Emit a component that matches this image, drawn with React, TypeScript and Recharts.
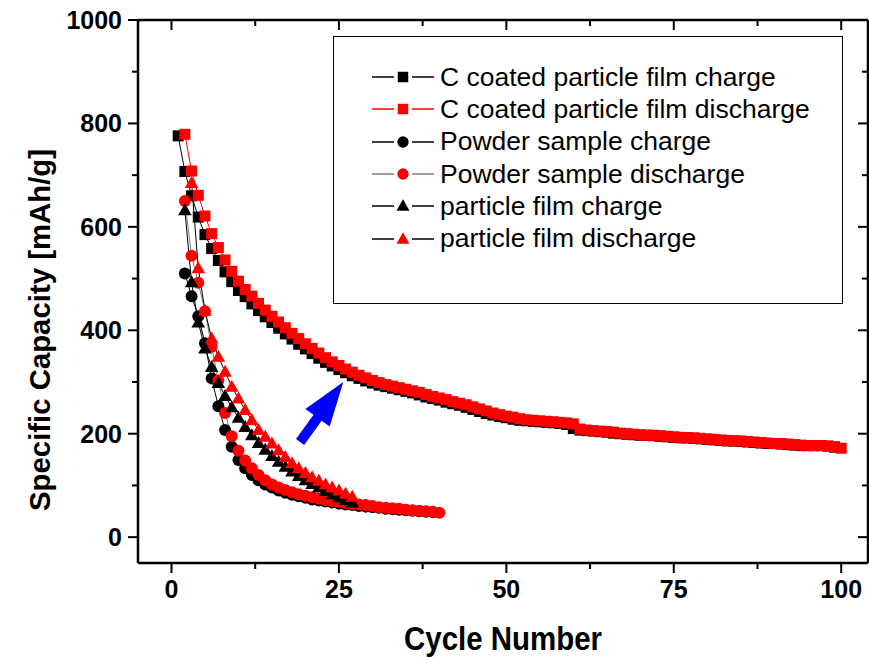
import React from 'react';
import { LineChart, Line, XAxis, YAxis, Legend, ReferenceLine } from 'recharts';

// capacity (mAh/g) per cycle, each series starts at its own cycle number
const cCoatedChargeStart = 1;
const cCoatedCharge = [
  776, 707, 660, 619, 585, 558, 535, 513, 494, 477,
  465, 451, 438, 426, 415, 404, 393, 383, 373, 364,
  355, 346, 338, 331, 324, 318, 312, 307, 302, 298,
  294, 291, 288, 285, 282, 279, 275, 271, 268, 265,
  261, 258, 255, 251, 247, 243, 239, 236, 233, 231,
  228, 226, 225, 224, 223, 222, 221, 220, 218, 210,
  207, 206, 205, 204, 203, 201, 200, 199, 198, 197,
  197, 196, 195, 194, 193, 192, 192, 191, 190, 189,
  188, 187, 186, 186, 185, 184, 183, 182, 181, 181,
  180, 179, 178, 177, 177, 177, 177, 176, 174,
];

const cCoatedDischargeStart = 2;
const cCoatedDischarge = [
  779, 708, 661, 621, 587, 560, 536, 514, 495,
  479, 466, 452, 439, 427, 416, 405, 394, 384, 374,
  365, 356, 347, 339, 332, 325, 319, 313, 308, 303,
  299, 295, 292, 289, 286, 283, 280, 276, 272, 269,
  266, 262, 259, 256, 252, 248, 244, 240, 237, 234,
  232, 229, 227, 226, 225, 224, 223, 222, 221, 219,
  209, 207, 206, 205, 204, 203, 201, 200, 199, 198,
  197, 197, 196, 195, 194, 193, 192, 192, 191, 190,
  189, 188, 187, 186, 186, 185, 184, 183, 182, 181,
  181, 180, 179, 178, 177, 177, 177, 176, 175, 172,
];

const powderChargeStart = 2;
const powderCharge = [
  510, 466, 427, 375, 307, 253, 207, 175, 149, 133,
  120, 110, 102, 96, 90, 86, 82, 79, 76, 73,
  71, 69, 67, 65, 63, 62, 60, 59, 58, 57,
  55, 54, 53, 52, 51, 50, 49, 48,
];

const powderDischargeStart = 2;
const powderDischarge = [
  650, 544, 492, 437, 368, 303, 240, 195, 167, 148,
  133, 120, 110, 102, 96, 91, 87, 83, 80, 77,
  74, 72, 70, 68, 66, 64, 63, 62, 60, 58,
  57, 56, 55, 53, 52, 51, 50, 49, 47,
];

const filmChargeStart = 2;
const filmCharge = [
  632, 493, 415, 365, 329, 298, 273, 251, 231, 213,
  197, 182, 169, 157, 146, 136, 127, 118, 110, 103,
  96, 89, 83, 77, 72, 67,
];

const filmDischargeStart = 3;
const filmDischarge = [
  685, 520, 438, 384, 349, 320, 291, 268, 246, 226,
  207, 194, 181, 168, 155, 143, 133, 124, 116, 109,
  102, 96, 90, 84, 78,
];

const xTicks = [0, 12.5, 25, 37.5, 50, 62.5, 75, 87.5, 100];
const xLabelled = [0, 25, 50, 75, 100];
const yTicks = [0, 100, 200, 300, 400, 500, 600, 700, 800, 900, 1000];
const yLabelled = [0, 200, 400, 600, 800, 1000];

const toRows = (start: number, values: number[]) =>
  values.map((y, i) => ({ x: start + i, y }));

type Shape = 'square' | 'circle' | 'triangle';

const series = [
  { id: 'ccCharge', name: 'C coated particle film charge', rows: toRows(cCoatedChargeStart, cCoatedCharge), stroke: '#000000', fill: '#000000', shape: 'square' as Shape },
  { id: 'ccDischarge', name: 'C coated particle film discharge', rows: toRows(cCoatedDischargeStart, cCoatedDischarge), stroke: '#ff0000', fill: '#ff0000', shape: 'square' as Shape },
  { id: 'pCharge', name: 'Powder sample charge', rows: toRows(powderChargeStart, powderCharge), stroke: '#000000', fill: '#000000', shape: 'circle' as Shape },
  { id: 'pDischarge', name: 'Powder sample discharge', rows: toRows(powderDischargeStart, powderDischarge), stroke: '#7f7f7f', fill: '#ff0000', shape: 'circle' as Shape },
  { id: 'fCharge', name: 'particle film charge', rows: toRows(filmChargeStart, filmCharge), stroke: '#000000', fill: '#000000', shape: 'triangle' as Shape },
  { id: 'fDischarge', name: 'particle film discharge', rows: toRows(filmDischargeStart, filmDischarge), stroke: '#000000', fill: '#ff0000', shape: 'triangle' as Shape },
];

const FONT = '"Liberation Sans", Arial, Helvetica, sans-serif';

const Marker = ({ shape, cx, cy, fill, s = 1 }: { shape: Shape; cx: number; cy: number; fill: string; s?: number }) => {
  if (shape === 'square') return <rect x={cx - 5.5 * s} y={cy - 5.5 * s} width={11 * s} height={11 * s} fill={fill} />;
  if (shape === 'circle') return <circle cx={cx} cy={cy} r={6 * s} fill={fill} />;
  return (
    <polygon
      points={`${cx},${cy - 7 * s} ${cx - 6.8 * s},${cy + 5 * s} ${cx + 6.8 * s},${cy + 5 * s}`}
      fill={fill}
    />
  );
};

const makeDot = (shape: Shape, fill: string) => (props: any) => {
  const { cx, cy, key } = props;
  if (cx == null || cy == null) return <g key={key} />;
  return (
    <g key={key}>
      <Marker shape={shape} cx={cx} cy={cy} fill={fill} />
    </g>
  );
};

// tick marks are drawn by hand: tickSize/tickMargin are 0 so x,y sit on the axis line
const BottomTick = (props: any) => {
  const { x, y, payload } = props;
  const major = xLabelled.includes(payload.value);
  return (
    <g>
      <line x1={x} y1={y} x2={x} y2={y + (major ? 10 : 6)} stroke="#000" strokeWidth={2} />
      {major && (
        <text x={x} y={y + 35} textAnchor="middle" fontFamily={FONT} fontWeight="bold" fontSize={25} fill="#000">
          {payload.value}
        </text>
      )}
    </g>
  );
};

const TopTick = (props: any) => {
  const { x, y, payload } = props;
  const major = xLabelled.includes(payload.value);
  return <line x1={x} y1={y} x2={x} y2={y + (major ? 10 : 6)} stroke="#000" strokeWidth={2} />;
};

const LeftTick = (props: any) => {
  const { x, y, payload } = props;
  const major = yLabelled.includes(payload.value);
  return (
    <g>
      <line x1={x} y1={y} x2={x - (major ? 10 : 6)} y2={y} stroke="#000" strokeWidth={2} />
      {major && (
        <text x={x - 16} y={y + 9} textAnchor="end" fontFamily={FONT} fontWeight="bold" fontSize={25} fill="#000">
          {payload.value}
        </text>
      )}
    </g>
  );
};

const RightTick = (props: any) => {
  const { x, y, payload } = props;
  const major = yLabelled.includes(payload.value);
  return <line x1={x} y1={y} x2={x - (major ? 10 : 6)} y2={y} stroke="#000" strokeWidth={2} />;
};

const XTitle = (props: any) => {
  const { viewBox } = props;
  return (
    <text
      x={viewBox.x + viewBox.width / 2}
      y={viewBox.y + 87}
      textAnchor="middle"
      fontFamily={FONT}
      fontWeight="bold"
      fontSize={34}
      textLength={198}
      lengthAdjust="spacingAndGlyphs"
      fill="#000"
    >
      Cycle Number
    </text>
  );
};

const YTitle = () => (
  <text
    transform="translate(50, 330) rotate(-90)"
    textAnchor="middle"
    fontFamily={FONT}
    fontWeight="bold"
    fontSize={29}
    textLength={362}
    lengthAdjust="spacingAndGlyphs"
    fill="#000"
  >
    Specific Capacity [mAh/g]
  </text>
);

const Arrow = (props: any) => {
  const { x1, y1, x2, y2 } = props;
  const dx = x2 - x1;
  const dy = y2 - y1;
  const len = Math.hypot(dx, dy);
  const ux = dx / len;
  const uy = dy / len;
  const nx = -uy;
  const ny = ux;
  const head = 44;
  const headHalf = 15;
  const shaftHalf = 5;
  const bx = x2 - ux * head;
  const by = y2 - uy * head;
  const pts = [
    [x1 + nx * shaftHalf, y1 + ny * shaftHalf],
    [bx + nx * shaftHalf, by + ny * shaftHalf],
    [bx + nx * headHalf, by + ny * headHalf],
    [x2, y2],
    [bx - nx * headHalf, by - ny * headHalf],
    [bx - nx * shaftHalf, by - ny * shaftHalf],
    [x1 - nx * shaftHalf, y1 - ny * shaftHalf],
  ];
  return <polygon points={pts.map((p) => p.join(',')).join(' ')} fill="#0000ff" />;
};

const LegendBox = (props: any) => {
  const payload = props.payload || [];
  return (
    <div
      style={{
        width: 510,
        height: 268,
        boxSizing: 'border-box',
        border: '1.5px solid #000',
        background: '#fff',
        paddingTop: 24,
        fontFamily: FONT,
      }}
    >
      {payload.map((entry: any) => {
        const s = series.find((d) => d.name === entry.value);
        if (!s) return null;
        return (
          <div key={s.id} style={{ display: 'flex', alignItems: 'center', height: 32.3 }}>
            <svg width={106} height={24} style={{ flex: 'none' }}>
              <line x1={38} y1={12} x2={60} y2={12} stroke={s.stroke} strokeWidth={1.5} />
              <line x1={78} y1={12} x2={100} y2={12} stroke={s.stroke} strokeWidth={1.5} />
              <Marker shape={s.shape} cx={69} cy={12} fill={s.fill} s={0.95} />
            </svg>
            <span style={{ fontSize: 26.5, color: '#000', whiteSpace: 'nowrap' }}>{s.name}</span>
          </div>
        );
      })}
    </div>
  );
};

export default function App() {
  return (
    <div style={{ position: 'absolute', left: 0, top: 0, background: '#fff' }}>
      <LineChart width={869} height={657} margin={{ top: 0, right: 0, bottom: 0, left: 0 }}>
        <XAxis
          xAxisId="bottom"
          type="number"
          dataKey="x"
          domain={[-5, 104]}
          ticks={xTicks}
          interval={0}
          allowDataOverflow
          height={94}
          tickSize={0}
          tickMargin={0}
          tickLine={false}
          axisLine={{ stroke: '#000', strokeWidth: 2.5 }}
          tick={<BottomTick />}
          label={<XTitle />}
        />
        <XAxis
          xAxisId="top"
          orientation="top"
          type="number"
          dataKey="x"
          domain={[-5, 104]}
          ticks={xTicks}
          interval={0}
          allowDataOverflow
          height={20}
          tickSize={0}
          tickMargin={0}
          tickLine={false}
          axisLine={{ stroke: '#000', strokeWidth: 2.5 }}
          tick={<TopTick />}
        />
        <YAxis
          yAxisId="left"
          type="number"
          domain={[-50, 1000]}
          ticks={yTicks}
          interval={0}
          allowDataOverflow
          width={138}
          tickSize={0}
          tickMargin={0}
          tickLine={false}
          axisLine={{ stroke: '#000', strokeWidth: 2.5 }}
          tick={<LeftTick />}
          label={<YTitle />}
        />
        <YAxis
          yAxisId="right"
          orientation="right"
          type="number"
          domain={[-50, 1000]}
          ticks={yTicks}
          interval={0}
          allowDataOverflow
          width={1}
          tickSize={0}
          tickMargin={0}
          tickLine={false}
          axisLine={{ stroke: '#000', strokeWidth: 2.5 }}
          tick={<RightTick />}
        />
        {series.map((s) => (
          <Line
            key={s.id}
            xAxisId="bottom"
            yAxisId="left"
            data={s.rows}
            dataKey="y"
            name={s.name}
            type="linear"
            stroke={s.stroke}
            strokeWidth={1}
            dot={makeDot(s.shape, s.fill)}
            activeDot={false}
            isAnimationActive={false}
          />
        ))}
        <ReferenceLine
          xAxisId="bottom"
          yAxisId="left"
          segment={[{ x: 19.2, y: 184 }, { x: 25.65, y: 300 }]}
          shape={<Arrow />}
          ifOverflow="visible"
        />
        <Legend
          layout="vertical"
          align="center"
          verticalAlign="middle"
          content={<LegendBox />}
          wrapperStyle={{ position: 'absolute', left: 333, top: 36, width: 510, height: 268 }}
        />
      </LineChart>
    </div>
  );
}
